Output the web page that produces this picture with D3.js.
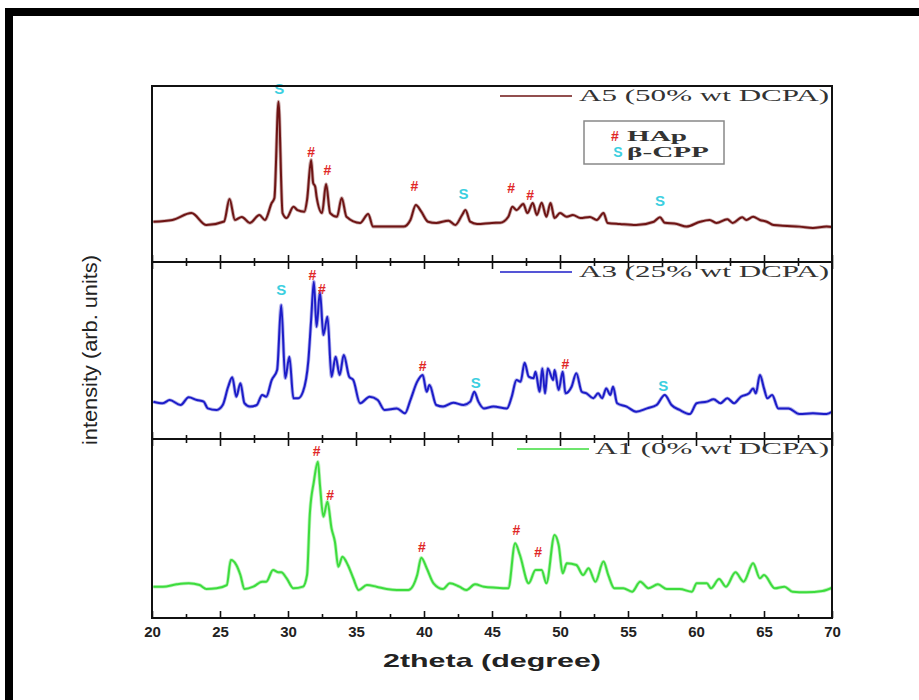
<!DOCTYPE html>
<html>
<head>
<meta charset="utf-8">
<script src="https://cdn.jsdelivr.net/npm/d3@7"></script>
<style>
  body { margin: 0; background: #fff; }
  svg { display: block; }
</style>
</head>
<body>
<svg id="chart"></svg>
<script>
// 2theta / intensity pairs (arb. units, 0-100 per panel)
const a5 = [[20.1,22.9],[21.5,23.9],[22.9,27.8],[24.0,21.0],[25.3,23.0],[25.7,35.8],[26.1,23.9],[26.6,25.6],[27.2,22.2],
  [27.9,26.7],[28.3,23.9],[28.8,33.5],[29.0,36.4],[29.3,91.1],[29.6,27.8],[29.9,25.0],[30.4,31.4],[30.7,29.5],[31.2,28.6],
  [31.4,35.2],[31.7,58.0],[31.85,44.9],[32.0,42.8],[32.1,37.1],[32.5,27.8],[32.8,44.3],[33.1,27.8],[33.6,25.7],[33.95,36.4],
  [34.3,25.7],[35.3,22.2],[35.9,27.3],[36.25,20.1],[37.0,20.1],[38.5,20.1],[39.0,23.9],[39.4,32.4],[39.8,28.6],[40.3,22.9],
  [40.9,22.2],[41.8,23.5],[42.3,21.0],[42.8,26.7],[43.05,29.5],[43.4,22.9],[43.9,21.6],[45.0,22.2],[45.6,22.3],[46.2,25.7],
  [46.5,31.4],[46.8,29.5],[47.3,33.0],[47.6,27.8],[48.0,33.5],[48.3,26.7],[48.65,33.7],[49.0,25.7],[49.3,33.5],[49.6,25.0],
  [50.0,27.8],[50.5,25.7],[50.95,26.7],[51.5,25.0],[52.2,25.6],[52.7,23.9],[53.2,27.8],[53.5,22.2],[54.4,21.6],[55.6,21.0],
  [56.9,22.9],[57.35,25.4],[57.7,22.3],[58.6,21.6],[59.3,20.1],[60.3,22.9],[61.0,23.9],[61.5,22.2],[62.3,24.3],[62.7,22.2],
  [63.4,25.4],[63.7,23.9],[64.2,25.7],[64.7,23.9],[65.2,22.9],[65.7,21.0],[66.7,20.5],[67.6,20.1],[68.6,19.3],[69.6,20.1],[70.0,19.9]];

const a3 = [[20.1,21.1],[20.8,20.2],[21.3,22.0],[22.1,19.2],[22.7,23.6],[23.3,22.0],[23.8,21.1],[24.1,17.3],[24.75,16.4],
  [25.2,19.2],[25.6,29.5],[25.9,34.9],[26.2,23.9],[26.5,31.5],[26.8,20.2],[27.2,18.3],[27.7,19.2],[28.1,24.9],[28.4,23.9],
  [28.8,33.3],[29.2,39.0],[29.5,75.7],[29.8,34.3],[30.1,46.5],[30.4,23.0],[30.75,23.0],[31.1,26.7],[31.5,44.6],[31.7,67.2],
  [31.9,88.9],[32.1,63.4],[32.35,83.2],[32.6,58.8],[32.9,69.1],[33.2,35.2],[33.5,46.5],[33.8,36.2],[34.1,47.5],[34.5,35.2],
  [34.8,33.3],[35.3,20.2],[36.0,23.9],[36.6,22.0],[37.1,16.4],[38.0,17.3],[38.6,14.5],[39.0,22.0],[39.5,32.4],[39.9,36.2],
  [40.2,26.7],[40.4,30.5],[40.9,19.2],[41.4,18.3],[42.15,20.5],[42.9,19.2],[43.4,21.1],[43.7,26.7],[44.0,21.1],[44.4,17.3],
  [45.1,18.3],[46.1,17.3],[46.45,23.9],[46.8,33.3],[47.1,32.4],[47.4,43.1],[47.7,35.2],[48.05,34.3],[48.2,38.0],[48.5,26.7],
  [48.7,39.9],[48.9,25.8],[49.1,39.9],[49.5,33.3],[49.6,39.0],[49.9,27.7],[50.2,38.0],[50.4,25.8],[50.85,29.5],[51.2,37.1],
  [51.6,26.7],[51.95,25.8],[52.45,23.0],[52.8,25.8],[53.1,23.0],[53.4,28.6],[53.7,24.9],[53.9,29.5],[54.2,20.2],[54.9,18.3],
  [55.6,15.4],[56.4,17.3],[57.1,19.2],[57.7,24.9],[58.2,19.2],[58.8,16.4],[59.55,14.1],[60.05,20.2],[60.8,21.1],[61.3,22.4],
  [61.8,20.2],[62.3,23.0],[62.8,20.2],[63.3,23.9],[63.9,25.8],[64.2,28.6],[64.4,25.8],[64.7,36.2],[65.0,28.6],[65.25,23.0],
  [65.6,24.9],[66.05,17.3],[66.8,17.3],[67.6,14.1],[68.6,14.5],[69.6,14.1],[70.0,15.4]];

const a1 = [[20.1,17.5],[20.8,17.5],[21.8,18.8],[22.7,19.4],[23.5,18.4],[24.0,16.2],[24.75,16.6],[25.5,18.4],[25.8,32.4],
  [26.2,29.6],[26.5,24.0],[26.8,16.2],[27.45,17.5],[28.1,20.3],[28.4,20.3],[28.9,26.8],[29.3,25.5],[29.5,25.5],[29.9,22.2],
  [30.4,16.6],[31.1,17.5],[31.4,24.0],[31.6,57.5],[31.9,76.1],[32.2,87.3],[32.35,74.3],[32.6,56.6],[32.9,65.0],[33.2,50.1],
  [33.45,42.6],[33.7,28.7],[34.0,34.2],[34.4,29.6],[34.8,22.2],[35.2,15.6],[35.8,18.4],[36.5,17.5],[37.25,16.2],[38.0,15.6],
  [38.85,15.6],[39.5,24.0],[39.8,33.7],[40.2,27.8],[40.7,19.4],[41.4,16.2],[41.9,19.4],[42.6,17.5],[43.1,15.6],[43.75,18.8],
  [44.4,17.5],[45.3,16.9],[46.2,16.6],[46.7,41.7],[47.05,35.2],[47.7,19.4],[48.2,26.8],[48.65,26.8],[49.0,19.4],[49.6,46.4],
  [49.9,40.8],[50.2,25.0],[50.5,30.6],[51.2,29.6],[51.7,24.0],[52.1,27.8],[52.6,20.3],[53.2,31.5],[53.55,24.0],[54.0,16.6],
  [54.65,16.6],[55.3,14.7],[55.9,20.3],[56.5,16.6],[57.2,18.8],[57.85,16.2],[58.8,16.2],[59.7,14.7],[60.05,19.4],[60.8,19.4],
  [61.1,16.6],[61.7,21.8],[62.2,17.5],[62.9,25.5],[63.5,20.3],[64.2,30.6],[64.7,22.2],[65.0,24.0],[65.8,16.6],[66.5,17.5],
  [67.1,14.7],[68.1,14.4],[69.3,15.1],[70.0,16.9]];

// phase markers: [2theta, height, symbol]  (# = HAp, S = beta-CPP)
const a5Marks = [[29.35,98.3,"S"],[31.7,62.5,"#"],[32.9,52.3,"#"],[39.3,43.2,"#"],[42.9,39.2,"S"],[46.4,42.0,"#"],[47.8,38.1,"#"],[57.35,35.2,"S"]];
const a3Marks = [[29.5,84.7,"S"],[31.8,92.7,"#"],[32.5,84.7,"#"],[39.9,41.2,"#"],[43.8,32.2,"S"],[50.4,42.4,"#"],[57.6,30.5,"S"]];
const a1Marks = [[32.1,93.3,"#"],[33.1,68.7,"#"],[39.85,39.7,"#"],[46.8,49.2,"#"],[48.4,36.9,"#"]];

const seriesNames = ["A5 (50% wt DCPA)","A3 (25% wt DCPA)","A1 (0% wt DCPA)"];
const seriesColors = ["#6e1414","#1c1cc8","#3ddc3d"];
const xTicks = [20,25,30,35,40,45,50,55,60,65,70];
const xMinorTicks = [22.5,27.5,32.5,37.5,42.5,47.5,52.5,57.5,62.5,67.5];
const legendItems = [["#","HAp"],["S","β-CPP"]];

const width = 919, height = 700;
const left = 152, right = 832;
const panelBounds = [[86,262],[262,439],[439,618]];
const markColor = {"#":"#e02828","S":"#3ccfe0"};

const svg = d3.select("#chart").attr("width",width).attr("height",height);

// outer black frame (top and left edges visible)
svg.append("path")
  .attr("d","M9,700 V12 H919")
  .attr("fill","none").attr("stroke","#000").attr("stroke-width",8);

const x = d3.scaleLinear().domain([20,70]).range([left,right]);

const data = [a5,a3,a1];
const marks = [a5Marks,a3Marks,a1Marks];

panelBounds.forEach((b,i)=>{
  const y = d3.scaleLinear().domain([0,100]).range([b[1],b[0]]);
  const g = svg.append("g");

  const line = d3.line()
    .x(d=>x(d[0]))
    .y(d=>y(d[1]))
    .curve(d3.curveMonotoneX);

  // soft underlay to mimic the blurred outline
  g.append("path").datum(data[i])
    .attr("fill","none").attr("stroke",seriesColors[i]).attr("stroke-opacity",0.35)
    .attr("stroke-width",3.6).attr("d",line);
  g.append("path").datum(data[i])
    .attr("fill","none").attr("stroke",seriesColors[i])
    .attr("stroke-width",2).attr("stroke-linejoin","round").attr("d",line);

  g.selectAll("text.mark").data(marks[i]).join("text")
    .attr("class","mark")
    .attr("x",d=>x(d[0])).attr("y",d=>y(d[1]))
    .attr("text-anchor","middle").attr("dominant-baseline","central")
    .attr("font-family","Liberation Sans, Arial, sans-serif")
    .attr("font-weight","bold").attr("font-size",d=>d[2]==="S"?15:14)
    .attr("fill",d=>markColor[d[2]])
    .text(d=>d[2]);

  // bottom edge ticks (inward)
  g.append("g").attr("transform",`translate(0,${b[1]})`)
    .call(d3.axisBottom(x).tickValues(xTicks).tickSizeInner(-7).tickSizeOuter(0)
      .tickPadding(8).tickFormat(i===2?d3.format("d"):""));
  g.append("g").attr("transform",`translate(0,${b[1]})`)
    .call(d3.axisBottom(x).tickValues(xMinorTicks).tickSizeInner(-4).tickSizeOuter(0).tickFormat(""));
  if(i>0){
    g.append("g").attr("transform",`translate(0,${b[0]})`)
      .call(d3.axisTop(x).tickValues(xTicks).tickSizeInner(-7).tickSizeOuter(0).tickFormat(""));
    g.append("g").attr("transform",`translate(0,${b[0]})`)
      .call(d3.axisTop(x).tickValues(xMinorTicks).tickSizeInner(-4).tickSizeOuter(0).tickFormat(""));
  }

  // panel frame
  g.append("rect").attr("x",left).attr("y",b[0]).attr("width",right-left).attr("height",b[1]-b[0])
    .attr("fill","none").attr("stroke","#111").attr("stroke-width",2);

  // series label with line sample
  const lx = i===2 ? 517 : 500, tx = i===2 ? 595 : 579;
  const ly = b[0] + 10;
  g.append("line").attr("x1",lx).attr("x2",lx+72).attr("y1",ly).attr("y2",ly)
    .attr("stroke",seriesColors[i]).attr("stroke-width",1.6);
  g.append("text").attr("x",tx).attr("y",ly+5)
    .attr("font-family","Liberation Serif, Times New Roman, serif").attr("font-size",17)
    .attr("fill","#333")
    .attr("textLength",829-tx).attr("lengthAdjust","spacingAndGlyphs")
    .text(seriesNames[i]);
});

svg.selectAll(".domain").attr("stroke","none");
svg.selectAll(".tick line").attr("stroke","#111").attr("stroke-width",1.6);
svg.selectAll(".tick text")
  .attr("font-family","Liberation Sans, Arial, sans-serif")
  .attr("font-weight","bold").attr("font-size",15).attr("fill","#222");

// phase legend box
const lg = svg.append("g");
lg.append("rect").attr("x",584).attr("y",121).attr("width",140).attr("height",43)
  .attr("fill","#fff").attr("stroke","#888").attr("stroke-width",1.5);
legendItems.forEach((d,k)=>{
  const base = 141 + k*16;
  lg.append("text").attr("x",d[0]==="#"?615:618).attr("y",base)
    .attr("text-anchor","middle")
    .attr("font-family","Liberation Sans, Arial, sans-serif").attr("font-weight","bold")
    .attr("font-size",14).attr("fill",markColor[d[0]]).text(d[0]);
  lg.append("text").attr("x",627).attr("y",base)
    .attr("font-family","Liberation Serif, Times New Roman, serif").attr("font-weight","bold")
    .attr("font-size",14).attr("fill","#333")
    .attr("textLength",k===0?60:82).attr("lengthAdjust","spacingAndGlyphs")
    .text(d[1]);
});

// axis titles
svg.append("text").attr("x",492).attr("y",667).attr("text-anchor","middle")
  .attr("font-family","Liberation Sans, Arial, sans-serif").attr("font-weight","bold")
  .attr("font-size",19).attr("fill","#222")
  .attr("textLength",218).attr("lengthAdjust","spacingAndGlyphs")
  .text("2theta (degree)");
svg.append("text").attr("transform","translate(97,350) rotate(-90)").attr("text-anchor","middle")
  .attr("font-family","Liberation Sans Narrow, Arial Narrow, Liberation Sans, sans-serif")
  .attr("font-size",20).attr("fill","#222")
  .attr("textLength",190).attr("lengthAdjust","spacingAndGlyphs")
  .text("intensity (arb. units)");
</script>
</body>
</html>
